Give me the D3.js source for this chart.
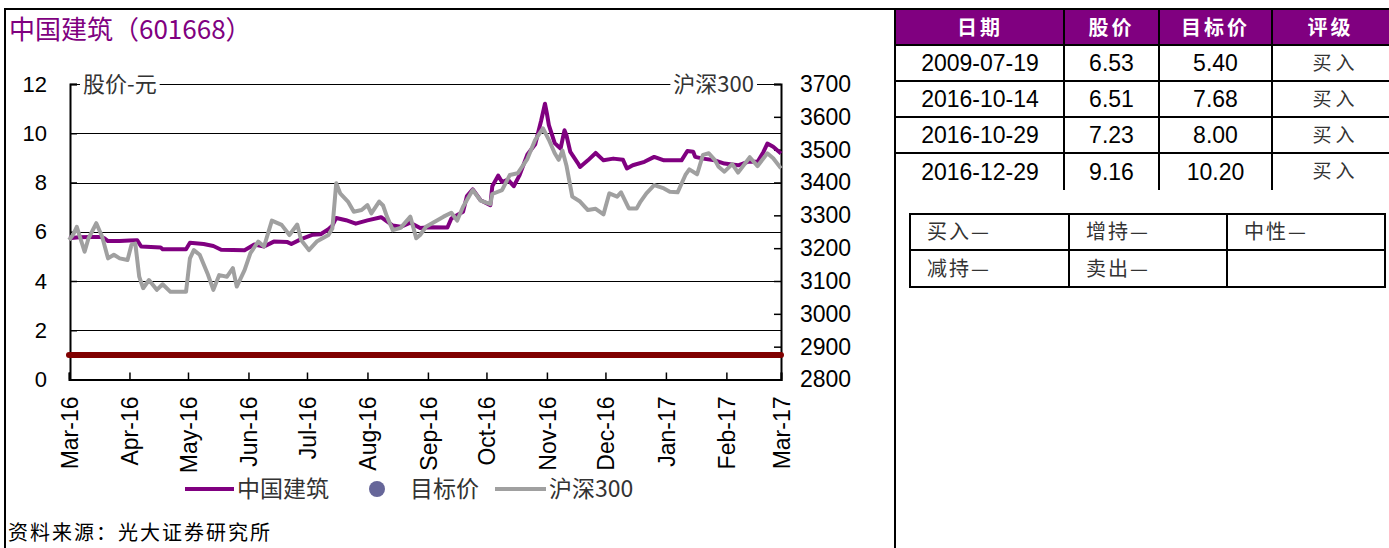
<!DOCTYPE html>
<html>
<head>
<meta charset="utf-8">
<script src="https://cdn.jsdelivr.net/npm/d3@7"></script>
<style>
  body { margin: 0; background: #fff; }
  svg text { font-family: "Liberation Sans", Arial, "Noto Sans CJK SC", sans-serif; }
  .cjk { font-family: "Noto Sans CJK SC", sans-serif; }
</style>
</head>
<body>
<div id="chart"></div>
<script>
// stock price, 中国建筑 (left axis, 元)
var stockDates = ["2016-03-01","2016-03-06","2016-03-13","2016-03-17","2016-03-19","2016-03-21","2016-03-27","2016-04-01","2016-04-05","2016-04-07",
  "2016-04-17","2016-04-18","2016-04-30","2016-05-02","2016-05-09","2016-05-14","2016-05-18","2016-05-30","2016-06-04","2016-06-09",
  "2016-06-14","2016-06-21","2016-06-23","2016-06-28","2016-07-04","2016-07-08","2016-07-12","2016-07-14","2016-07-16","2016-07-21",
  "2016-07-26","2016-08-01","2016-08-08","2016-08-14","2016-08-18","2016-08-23","2016-08-28","2016-09-02","2016-09-11","2016-09-13",
  "2016-09-19","2016-09-21","2016-09-24","2016-09-28","2016-10-03","2016-10-04","2016-10-07","2016-10-09","2016-10-12","2016-10-15",
  "2016-10-18","2016-10-22","2016-10-26","2016-10-29","2016-10-31","2016-11-01","2016-11-02","2016-11-05","2016-11-07","2016-11-08",
  "2016-11-10","2016-11-11","2016-11-13","2016-11-17","2016-11-18","2016-11-22","2016-11-26","2016-11-30","2016-12-05","2016-12-10",
  "2016-12-12","2016-12-15","2016-12-21","2016-12-26","2016-12-31","2017-01-09","2017-01-12","2017-01-15","2017-01-16","2017-01-20",
  "2017-01-26","2017-01-31","2017-02-07","2017-02-12","2017-02-17","2017-02-20","2017-02-22","2017-02-25","2017-03-01"];
var stockPrices = [5.74,5.78,5.79,5.79,5.74,5.62,5.62,5.64,5.65,5.40,
  5.36,5.29,5.29,5.55,5.50,5.42,5.27,5.25,5.48,5.40,
  5.60,5.58,5.50,5.70,5.88,5.90,6.10,6.25,6.56,6.47,
  6.33,6.46,6.59,6.25,6.20,6.37,6.15,6.18,6.17,6.54,
  6.81,7.45,7.72,7.28,7.08,7.85,8.28,8.02,8.12,7.85,
  8.30,9.14,9.55,10.50,11.20,10.80,10.33,9.60,9.45,9.38,
  10.12,9.92,9.24,8.77,8.63,8.90,9.20,8.90,8.97,8.92,
  8.57,8.70,8.84,9.04,8.90,8.90,9.28,9.25,9.04,8.97,
  8.90,8.77,8.70,8.84,8.84,9.24,9.58,9.45,9.18];

// 沪深300 (right axis)
var hsDates = ["2016-03-01","2016-03-03","2016-03-05","2016-03-09","2016-03-11","2016-03-15","2016-03-18","2016-03-21","2016-03-24","2016-03-27",
  "2016-03-31","2016-04-02","2016-04-04","2016-04-06","2016-04-08","2016-04-11","2016-04-15","2016-04-18","2016-04-22","2016-04-30",
  "2016-05-02","2016-05-04","2016-05-07","2016-05-11","2016-05-14","2016-05-17","2016-05-21","2016-05-24","2016-05-26","2016-05-30",
  "2016-06-02","2016-06-06","2016-06-09","2016-06-13","2016-06-18","2016-06-22","2016-06-26","2016-06-28","2016-07-02","2016-07-06",
  "2016-07-12","2016-07-14","2016-07-16","2016-07-18","2016-07-22","2016-07-25","2016-07-29","2016-08-01","2016-08-03","2016-08-07",
  "2016-08-09","2016-08-11","2016-08-14","2016-08-18","2016-08-23","2016-08-26","2016-08-28","2016-08-31","2016-09-09","2016-09-13",
  "2016-09-16","2016-09-19","2016-09-23","2016-09-24","2016-09-28","2016-10-03","2016-10-04","2016-10-09","2016-10-13","2016-10-17",
  "2016-10-22","2016-10-26","2016-10-30","2016-11-02","2016-11-05","2016-11-07","2016-11-09","2016-11-11","2016-11-14","2016-11-18",
  "2016-11-22","2016-11-26","2016-11-30","2016-12-03","2016-12-07","2016-12-09","2016-12-13","2016-12-17","2016-12-19","2016-12-22",
  "2016-12-26","2016-12-31","2017-01-03","2017-01-07","2017-01-11","2017-01-13","2017-01-17","2017-01-20","2017-01-23","2017-01-26",
  "2017-01-28","2017-01-31","2017-02-04","2017-02-07","2017-02-13","2017-02-17","2017-02-22","2017-02-25","2017-03-01"];
var hsValues = [3225,3240,3265,3189,3230,3276,3235,3169,3180,3169,
  3164,3210,3214,3113,3078,3103,3073,3090,3067,3067,
  3169,3194,3180,3123,3073,3118,3113,3139,3083,3133,
  3185,3220,3205,3284,3271,3240,3272,3225,3194,3220,
  3240,3260,3398,3367,3342,3311,3316,3331,3306,3342,
  3330,3296,3255,3262,3296,3230,3240,3265,3296,3308,
  3284,3326,3367,3377,3345,3334,3365,3377,3423,3428,
  3472,3530,3565,3530,3489,3469,3497,3452,3357,3342,
  3316,3320,3303,3367,3357,3370,3321,3321,3342,3367,
  3392,3382,3372,3370,3423,3440,3425,3484,3489,3469,
  3448,3433,3456,3430,3477,3450,3489,3474,3443];

// 目标价 series as plotted (flat)
var targetDates = ["2016-03-01","2017-03-01"];
var targetValues = [1.0, 1.0];

var leftTicks = [0,2,4,6,8,10,12];
var rightTicks = [2800,2900,3000,3100,3200,3300,3400,3500,3600,3700];

var tableHeaders = ["日期","股价","目标价","评级"];
var tableDates = ["2009-07-19","2016-10-14","2016-10-29","2016-12-29"];
var tablePrices = ["6.53","6.51","7.23","9.16"];
var tableTargets = ["5.40","7.68","8.00","10.20"];
var tableRatings = ["买入","买入","买入","买入"];
var ratingKey = [["买入—","增持—","中性—"],["减持—","卖出—",""]];

var W = 1389, H = 548;
var parse = d3.timeParse("%Y-%m-%d");

var svg = d3.select("#chart").append("svg")
    .attr("width", W).attr("height", H);

var x = d3.scaleTime()
    .domain([parse("2016-03-01"), parse("2017-03-01")])
    .range([69, 781]);
var yL = d3.scaleLinear().domain([0, 12]).range([379.5, 84]);
var yR = d3.scaleLinear().domain([2800, 3700]).range([379.5, 84]);

// frame
svg.append("path")
    .attr("d", "M5,548V9H1389M895,9V548")
    .attr("fill", "none").attr("stroke", "#000").attr("stroke-width", 2);

// title
svg.append("text").attr("class", "cjk")
    .attr("x", 9).attr("y", 39)
    .attr("fill", "#800080").style("font-size", "26px")
    .text("中国建筑（601668）");

// gridlines
svg.append("g").selectAll("line")
    .data(leftTicks.filter(function(d) { return d > 0; }))
    .enter().append("line")
    .attr("x1", 70).attr("x2", 781)
    .attr("y1", function(d) { return Math.round(yL(d)) + 0.5; })
    .attr("y2", function(d) { return Math.round(yL(d)) + 0.5; })
    .attr("stroke", "#000").attr("stroke-width", 1);

// axes
var gL = svg.append("g").attr("transform", "translate(70,0)")
    .call(d3.axisRight(yL).tickValues(leftTicks).tickSize(7).tickFormat(d3.format("d")));
gL.selectAll("text").attr("x", -23).attr("text-anchor", "end")
    .style("font-size", "22px").attr("fill", "#000");

var gR = svg.append("g").attr("transform", "translate(781,0)")
    .call(d3.axisLeft(yR).tickValues(rightTicks).tickSize(7).tickFormat(d3.format("d")));
gR.selectAll("text").attr("x", 19).attr("text-anchor", "start")
    .style("font-size", "23px").attr("fill", "#000");

var gX = svg.append("g").attr("transform", "translate(0,379.5)")
    .call(d3.axisTop(x).ticks(d3.timeMonth.every(1)).tickSize(7).tickFormat(d3.timeFormat("%b-%y")));
gX.selectAll("text")
    .attr("transform", "rotate(-90)")
    .attr("x", -17).attr("y", 0).attr("dy", "0.36em")
    .attr("text-anchor", "end")
    .style("font-size", "23px").attr("fill", "#000");

[gL, gR, gX].forEach(function(g) {
  g.select(".domain").attr("stroke", "#000").attr("stroke-width", 2);
  g.selectAll(".tick line").attr("stroke", "#000").attr("stroke-width", 1.5);
});

// axis captions over top line
function caption(txt, xx, anchor) {
  var t = svg.append("text").attr("class", "cjk")
      .attr("x", xx).attr("y", 92)
      .attr("text-anchor", anchor)
      .attr("fill", "#333").style("font-size", "22px").text(txt);
  var b = t.node().getBBox();
  svg.insert("rect", function() { return t.node(); })
      .attr("x", b.x - 3).attr("y", b.y).attr("width", b.width + 6).attr("height", b.height)
      .attr("fill", "#fff");
}
caption("股价-元", 83, "start");
caption("沪深300", 754, "end");

// series
function series(dates, vals, yScale) {
  return dates.map(function(d, i) { return [x(parse(d)), yScale(vals[i])]; });
}
var line = d3.line();

svg.append("path")
    .attr("d", line(series(stockDates, stockPrices, yL)))
    .attr("fill", "none").attr("stroke", "#800080").attr("stroke-width", 4)
    .attr("stroke-linejoin", "round");

svg.append("path")
    .attr("d", line(series(targetDates, targetValues, yL)))
    .attr("fill", "none").attr("stroke", "#800000").attr("stroke-width", 6)
    .attr("stroke-linecap", "round");

svg.append("path")
    .attr("d", line(series(hsDates, hsValues, yR)))
    .attr("fill", "none").attr("stroke", "#a0a0a0").attr("stroke-width", 4)
    .attr("stroke-linejoin", "round");

// legend
var lg = svg.append("g").attr("transform", "translate(0,489)");
lg.append("line").attr("x1", 185).attr("x2", 234).attr("stroke", "#800080").attr("stroke-width", 4);
lg.append("text").attr("class", "cjk").attr("x", 237).attr("dy", "0.36em")
    .attr("fill", "#333").style("font-size", "23px").text("中国建筑");
lg.append("circle").attr("cx", 377).attr("r", 8).attr("fill", "#666699");
lg.append("text").attr("class", "cjk").attr("x", 410).attr("dy", "0.36em")
    .attr("fill", "#333").style("font-size", "23px").text("目标价");
lg.append("line").attr("x1", 495).attr("x2", 546).attr("stroke", "#a0a0a0").attr("stroke-width", 4);
lg.append("text").attr("class", "cjk").attr("x", 549).attr("dy", "0.36em")
    .attr("fill", "#333").style("font-size", "23px").text("沪深300");

// source
svg.append("text").attr("class", "cjk")
    .attr("x", 8).attr("y", 540)
    .attr("fill", "#000").style("font-size", "20px").style("letter-spacing", "2px")
    .text("资料来源：光大证券研究所");

// table of ratings
var colEdges = [896, 1064, 1159, 1272, 1389];
var rowEdges = [10, 45, 81, 117, 153, 190];
var tb = svg.append("g");
tb.append("rect").attr("x", 896).attr("y", rowEdges[0])
    .attr("width", W - 896).attr("height", rowEdges[1] - rowEdges[0])
    .attr("fill", "#800080");
tb.selectAll("text.h").data(tableHeaders).enter().append("text")
    .attr("class", "cjk")
    .attr("x", function(d, i) { return (colEdges[i] + colEdges[i + 1]) / 2; })
    .attr("y", (rowEdges[0] + rowEdges[1]) / 2).attr("dy", "0.36em")
    .attr("text-anchor", "middle").attr("fill", "#fff")
    .style("font-size", "20px").style("font-weight", "bold").style("letter-spacing", "3px")
    .text(function(d) { return d; });

var rows = tableDates.map(function(d, i) { return [d, tablePrices[i], tableTargets[i], tableRatings[i]]; });
rows.forEach(function(r, ri) {
  var cy = (rowEdges[ri + 1] + rowEdges[ri + 2]) / 2;
  r.forEach(function(v, ci) {
    tb.append("text")
        .attr("class", ci == 3 ? "cjk" : null)
        .attr("x", (colEdges[ci] + colEdges[ci + 1]) / 2 + (ci == 3 ? 5 : 0))
        .attr("y", cy).attr("dy", "0.36em")
        .attr("text-anchor", "middle")
        .attr("fill", ci == 3 ? "#333" : "#000")
        .style("font-size", ci == 3 ? "19px" : "23px")
        .style("letter-spacing", ci == 3 ? "4px" : null)
        .text(v);
  });
});
// table rules
tb.selectAll("line.r").data(rowEdges.slice(1, 5)).enter().append("line")
    .attr("x1", 896).attr("x2", W).attr("y1", function(d) { return d; }).attr("y2", function(d) { return d; })
    .attr("stroke", "#000").attr("stroke-width", 2);
tb.selectAll("line.c").data(colEdges.slice(1, 4)).enter().append("line")
    .attr("x1", function(d) { return d; }).attr("x2", function(d) { return d; })
    .attr("y1", rowEdges[0]).attr("y2", rowEdges[5])
    .attr("stroke", "#000").attr("stroke-width", 2);

// rating key box
var kx = [910, 1069, 1227, 1385], ky = [214, 250, 287];
var kb = svg.append("g");
kb.append("rect").attr("x", kx[0]).attr("y", ky[0])
    .attr("width", kx[3] - kx[0]).attr("height", ky[2] - ky[0])
    .attr("fill", "none").attr("stroke", "#000").attr("stroke-width", 2);
kb.append("line").attr("x1", kx[0]).attr("x2", kx[3]).attr("y1", ky[1]).attr("y2", ky[1])
    .attr("stroke", "#000").attr("stroke-width", 2);
[kx[1], kx[2]].forEach(function(xx) {
  kb.append("line").attr("x1", xx).attr("x2", xx).attr("y1", ky[0]).attr("y2", ky[2])
      .attr("stroke", "#000").attr("stroke-width", 2);
});
ratingKey.forEach(function(r, ri) {
  r.forEach(function(t, ci) {
    kb.append("text").attr("class", "cjk")
        .attr("x", kx[ci] + 17).attr("y", (ky[ri] + ky[ri + 1]) / 2).attr("dy", "0.36em")
        .attr("fill", "#333").style("font-size", "20px").style("letter-spacing", "2px")
        .text(t);
  });
});
</script>
</body>
</html>
